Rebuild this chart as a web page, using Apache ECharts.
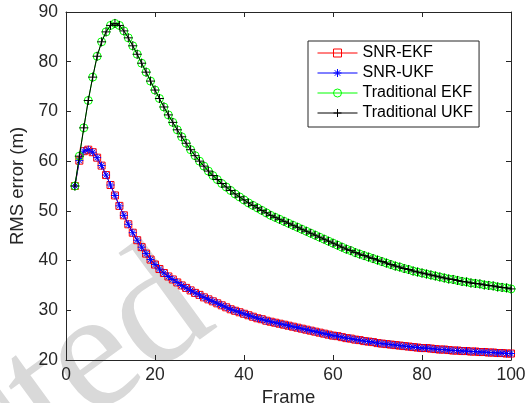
<!DOCTYPE html>
<html>
<head>
<meta charset="utf-8">
<script src="https://cdn.jsdelivr.net/npm/echarts@6/dist/echarts.min.js"></script>
<style>
  html, body { margin: 0; padding: 0; background: #fff; }
  #chart { width: 525px; height: 403px; }
</style>
</head>
<body>
<div id="chart"></div>
<script>
// Frame indices of the simulation run
const frames = [
  2, 3, 4, 5, 6, 7, 8, 9, 10,
  11, 12, 13, 14, 15, 16, 17, 18, 19, 20,
  21, 22, 23, 24, 25, 26, 27, 28, 29, 30,
  31, 32, 33, 34, 35, 36, 37, 38, 39, 40,
  41, 42, 43, 44, 45, 46, 47, 48, 49, 50,
  51, 52, 53, 54, 55, 56, 57, 58, 59, 60,
  61, 62, 63, 64, 65, 66, 67, 68, 69, 70,
  71, 72, 73, 74, 75, 76, 77, 78, 79, 80,
  81, 82, 83, 84, 85, 86, 87, 88, 89, 90,
  91, 92, 93, 94, 95, 96, 97, 98, 99, 100
];

// RMS position error (m) per frame
const snrEkf = [
  55.0, 60.1, 62.0, 62.3, 61.8, 60.7, 59.1, 57.2, 55.2,
  53.1, 51.0, 49.1, 47.3, 45.6, 44.1, 42.7, 41.4, 40.2, 39.2,
  38.3, 37.5, 36.8, 36.2, 35.6, 35.0, 34.5, 34.0, 33.5, 33.1,
  32.6, 32.2, 31.8, 31.4, 31.0, 30.6, 30.2, 29.9, 29.6, 29.3,
  29.0, 28.7, 28.4, 28.2, 27.9, 27.7, 27.5, 27.3, 27.1, 26.9,
  26.7, 26.5, 26.3, 26.1, 25.9, 25.7, 25.5, 25.3, 25.1, 24.9,
  24.8, 24.6, 24.4, 24.3, 24.1, 24.0, 23.8, 23.7, 23.6, 23.4,
  23.3, 23.2, 23.1, 23.0, 22.9, 22.8, 22.7, 22.6, 22.5, 22.4,
  22.4, 22.3, 22.2, 22.1, 22.1, 22.0, 21.9, 21.9, 21.8, 21.8,
  21.7, 21.7, 21.6, 21.6, 21.5, 21.5, 21.4, 21.4, 21.3, 21.3
];
const snrUkf = [
  55.0, 60.1, 62.0, 62.3, 61.8, 60.7, 59.1, 57.2, 55.2,
  53.1, 51.0, 49.1, 47.3, 45.6, 44.1, 42.7, 41.4, 40.2, 39.2,
  38.3, 37.5, 36.8, 36.2, 35.6, 35.0, 34.5, 34.0, 33.5, 33.1,
  32.6, 32.2, 31.8, 31.4, 31.0, 30.6, 30.2, 29.9, 29.6, 29.3,
  29.0, 28.7, 28.4, 28.2, 27.9, 27.7, 27.5, 27.3, 27.1, 26.9,
  26.7, 26.5, 26.3, 26.1, 25.9, 25.7, 25.5, 25.3, 25.1, 24.9,
  24.8, 24.6, 24.4, 24.3, 24.1, 24.0, 23.8, 23.7, 23.6, 23.4,
  23.3, 23.2, 23.1, 23.0, 22.9, 22.8, 22.7, 22.6, 22.5, 22.4,
  22.4, 22.3, 22.2, 22.1, 22.1, 22.0, 21.9, 21.9, 21.8, 21.8,
  21.7, 21.7, 21.6, 21.6, 21.5, 21.5, 21.4, 21.4, 21.3, 21.3
];
const tradEkf = [
  55.0, 61.0, 66.7, 72.2, 76.9, 81.1, 84.0, 86.0, 87.3,
  87.7, 87.3, 86.2, 84.8, 83.2, 81.5, 79.7, 77.9, 76.1, 74.3,
  72.6, 70.9, 69.3, 67.8, 66.3, 64.9, 63.6, 62.3, 61.1, 60.0,
  59.0, 58.0, 57.1, 56.3, 55.5, 54.8, 54.1, 53.4, 52.8, 52.2,
  51.6, 51.1, 50.6, 50.1, 49.6, 49.1, 48.7, 48.3, 47.9, 47.5,
  47.1, 46.7, 46.3, 45.9, 45.5, 45.1, 44.7, 44.3, 43.9, 43.5,
  43.1, 42.7, 42.3, 42.0, 41.6, 41.3, 41.0, 40.7, 40.4, 40.1,
  39.8, 39.5, 39.2, 38.9, 38.7, 38.4, 38.2, 37.9, 37.7, 37.5,
  37.3, 37.1, 36.9, 36.7, 36.5, 36.3, 36.2, 36.0, 35.8, 35.7,
  35.5, 35.4, 35.3, 35.1, 35.0, 34.9, 34.7, 34.6, 34.5, 34.3
];
const tradUkf = [
  55.0, 61.0, 66.7, 72.2, 76.9, 81.1, 84.0, 86.0, 87.3,
  87.7, 87.3, 86.2, 84.8, 83.2, 81.5, 79.7, 77.9, 76.1, 74.3,
  72.6, 70.9, 69.3, 67.8, 66.3, 64.9, 63.6, 62.3, 61.1, 60.0,
  59.0, 58.0, 57.1, 56.3, 55.5, 54.8, 54.1, 53.4, 52.8, 52.2,
  51.6, 51.1, 50.6, 50.1, 49.6, 49.1, 48.7, 48.3, 47.9, 47.5,
  47.1, 46.7, 46.3, 45.9, 45.5, 45.1, 44.7, 44.3, 43.9, 43.5,
  43.1, 42.7, 42.3, 42.0, 41.6, 41.3, 41.0, 40.7, 40.4, 40.1,
  39.8, 39.5, 39.2, 38.9, 38.7, 38.4, 38.2, 37.9, 37.7, 37.5,
  37.3, 37.1, 36.9, 36.7, 36.5, 36.3, 36.2, 36.0, 35.8, 35.7,
  35.5, 35.4, 35.3, 35.1, 35.0, 34.9, 34.7, 34.6, 34.5, 34.3
];

const seriesNames = ['SNR-EKF', 'SNR-UKF', 'Traditional EKF', 'Traditional UKF'];
const xRange = { min: 0, max: 100, step: 20 };
const yRange = { min: 20, max: 90, step: 10 };

const INK = '#262626';
const FONT = '"Liberation Sans", Arial, sans-serif';

const SYM_ASTERISK = 'path://M5 0V10M0 5H10M1.6 1.6L8.4 8.4M8.4 1.6L1.6 8.4';
const SYM_PLUS = 'path://M5 0V10M0 5H10';

const styles = [
  { color: '#ff0000', symbol: 'rect', size: 7 },
  { color: '#0000ff', symbol: SYM_ASTERISK, size: 8 },
  { color: '#00ff00', symbol: 'circle', size: 8 },
  { color: '#000000', symbol: SYM_PLUS, size: 9 }
];
const values = [snrEkf, snrUkf, tradEkf, tradUkf];

function pairs(ys) {
  return frames.map((f, i) => [f, ys[i]]);
}

const series = seriesNames.map((name, k) => ({
  name,
  type: 'line',
  data: pairs(values[k]),
  symbol: styles[k].symbol,
  symbolSize: styles[k].size,
  showAllSymbol: true,
  symbolKeepAspect: true,
  lineStyle: { color: styles[k].color, width: 1 },
  itemStyle: { color: 'rgba(0,0,0,0)', borderColor: styles[k].color, borderWidth: 1 },
  emphasis: { disabled: true },
  z: 3 + k
}));

function frameAxis(position, withLabels) {
  return {
    type: 'value',
    position,
    min: xRange.min, max: xRange.max, interval: xRange.step,
    name: withLabels ? 'Frame' : '',
    nameLocation: 'middle',
    nameGap: 15,
    nameTextStyle: { color: INK, fontSize: 18.5, fontFamily: FONT },
    axisLine: { show: true, onZero: false, lineStyle: { color: INK, width: 1 } },
    axisTick: { show: true, inside: true, length: 5, lineStyle: { color: INK } },
    axisLabel: { show: withLabels, color: INK, fontSize: 17.5, fontFamily: FONT, margin: 6 },
    splitLine: { show: false }
  };
}
function errorAxis(position, withLabels) {
  return {
    type: 'value',
    position,
    min: yRange.min, max: yRange.max, interval: yRange.step,
    name: withLabels ? 'RMS error (m)' : '',
    nameLocation: 'middle',
    nameGap: 25,
    nameTextStyle: { color: INK, fontSize: 18.5, fontFamily: FONT },
    axisLine: { show: true, onZero: false, lineStyle: { color: INK, width: 1 } },
    axisTick: { show: true, inside: true, length: 5, lineStyle: { color: INK } },
    axisLabel: { show: withLabels, color: INK, fontSize: 17.5, fontFamily: FONT, margin: 8 },
    splitLine: { show: false }
  };
}

const chart = echarts.init(document.getElementById('chart'), null, { renderer: 'canvas' });
chart.setOption({
  animation: false,
  backgroundColor: '#ffffff',
  grid: { left: 66, right: 14, top: 12, bottom: 43, containLabel: false, outerBoundsMode: 'none' },
  xAxis: [frameAxis('bottom', true), frameAxis('top', false)],
  yAxis: [errorAxis('left', true), errorAxis('right', false)],
  legend: {
    orient: 'vertical',
    left: 308, top: 41,
    padding: [2, 6, 4, 9],
    itemWidth: 40, itemHeight: 10, itemGap: 0,
    backgroundColor: '#ffffff',
    borderColor: INK, borderWidth: 1,
    selectedMode: false,
    textStyle: { color: '#000', fontSize: 16, fontFamily: FONT, lineHeight: 20 },
    data: seriesNames.map((name, k) => ({
      name,
      itemStyle: { color: 'rgba(0,0,0,0)', borderColor: styles[k].color, borderWidth: 1 },
      lineStyle: { color: styles[k].color, width: 1 }
    }))
  },
  graphic: [{
    type: 'text',
    z: -10,
    x: 243, y: 358,
    rotation: 0.63,
    silent: true,
    style: {
      text: 'Retracted',
      font: '170px "Liberation Serif", serif',
      fill: '#d9d9d9',
      align: 'right',
      verticalAlign: 'bottom'
    }
  }],
  series
});
</script>
</body>
</html>
